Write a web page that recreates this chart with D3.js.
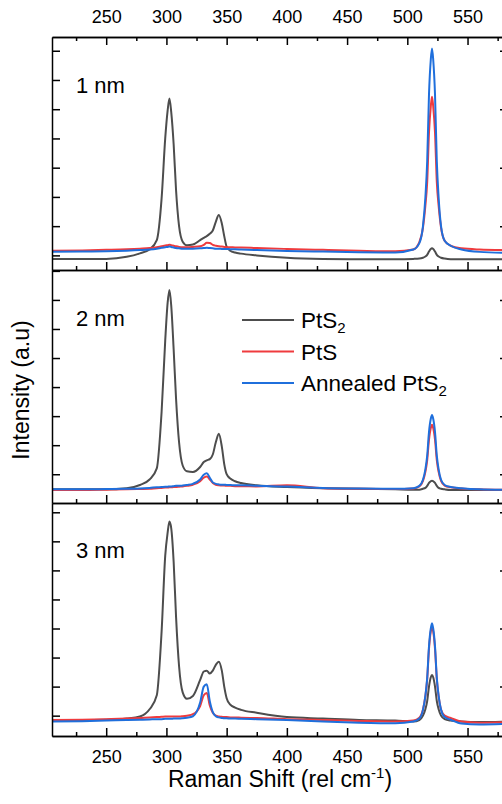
<!DOCTYPE html>
<html>
<head>
<meta charset="utf-8">
<script src="https://cdn.jsdelivr.net/npm/d3@7"></script>
<style>
  body { margin: 0; background: #fff; }
  text { font-family: Arial, "Liberation Sans", sans-serif; fill: #000; }
</style>
</head>
<body>
<div id="chart"></div>
<script>
// Raman shift grid (rel cm-1)
const shift = [205, 230, 250, 267, 278, 286, 292, 296, 299, 301,
  302.5, 304, 306, 308, 310.5, 313.5, 317, 322, 328, 331,
  333.5, 336, 338.5, 341, 343.5, 346, 348, 350, 353, 357,
  362, 375, 400, 430, 460, 490, 505, 510, 513, 515,
  516.5, 518, 519.5, 520.5, 521.5, 523, 524.5, 526, 528, 531,
  536, 545, 560, 583];

// 1 nm
const pts2_1nm = [-0.12, -0.12, -0.12, -0.05, 0.07, 0.20, 0.52, 1.95, 4.0, 4.95,
  5.37, 4.9, 3.8, 2.23, 1.0, 0.47, 0.35, 0.37, 0.52, 0.6,
  0.66, 0.74, 0.85, 1.15, 1.38, 1.09, 0.66, 0.30, 0.16, 0.10,
  0.06, 0.0, -0.08, -0.12, -0.13, -0.13, -0.12, -0.11, -0.08, -0.04,
  0.02, 0.13, 0.22, 0.24, 0.22, 0.13, 0.02, -0.04, -0.08, -0.11,
  -0.13, -0.13, -0.13, -0.13];
const pts_1nm = [0.16, 0.17, 0.19, 0.21, 0.23, 0.25, 0.28, 0.31, 0.34, 0.35,
  0.36, 0.35, 0.33, 0.31, 0.29, 0.28, 0.28, 0.29, 0.31, 0.36,
  0.43, 0.42, 0.36, 0.33, 0.31, 0.30, 0.29, 0.28, 0.28, 0.27,
  0.27, 0.25, 0.22, 0.19, 0.16, 0.14, 0.20, 0.45, 0.95, 1.7,
  2.5, 4.2, 5.1, 5.43, 5.1, 4.2, 2.5, 1.7, 0.95, 0.5,
  0.33, 0.24, 0.2, 0.18];
const annealed_1nm = [0.12, 0.13, 0.14, 0.16, 0.18, 0.20, 0.23, 0.26, 0.28, 0.29,
  0.30, 0.29, 0.27, 0.25, 0.24, 0.23, 0.23, 0.23, 0.24, 0.25,
  0.26, 0.25, 0.24, 0.23, 0.23, 0.22, 0.22, 0.22, 0.21, 0.21,
  0.20, 0.18, 0.15, 0.13, 0.11, 0.10, 0.20, 0.42, 1.0, 1.98,
  3.2, 5.5, 6.7, 7.08, 6.7, 5.5, 3.2, 1.98, 1.0, 0.5,
  0.33, 0.20, 0.12, 0.09];

// 2 nm
const pts2_2nm = [-0.52, -0.52, -0.52, -0.48, -0.37, -0.18, 0.2, 2.15, 4.6, 5.9,
  6.34, 5.8, 4.3, 2.6, 1.1, 0.3, 0.1, 0.08, 0.25, 0.42,
  0.48, 0.52, 0.68, 1.1, 1.39, 0.95, 0.35, 0.0, -0.15, -0.24,
  -0.3, -0.38, -0.44, -0.48, -0.5, -0.52, -0.53, -0.53, -0.5, -0.47,
  -0.4, -0.3, -0.24, -0.22, -0.24, -0.3, -0.4, -0.47, -0.5, -0.52,
  -0.54, -0.54, -0.54, -0.54];
const pts_2nm = [-0.54, -0.54, -0.53, -0.52, -0.51, -0.50, -0.48, -0.47, -0.46, -0.46,
  -0.45, -0.45, -0.44, -0.44, -0.43, -0.42, -0.40, -0.36, -0.24, -0.12,
  -0.08, -0.18, -0.30, -0.36, -0.38, -0.39, -0.39, -0.40, -0.40, -0.41,
  -0.41, -0.42, -0.38, -0.48, -0.50, -0.51, -0.49, -0.42, -0.23, 0.08,
  0.48, 1.19, 1.59, 1.70, 1.59, 1.19, 0.48, 0.08, -0.23, -0.39,
  -0.45, -0.49, -0.52, -0.54];
const annealed_2nm = [-0.52, -0.52, -0.51, -0.50, -0.49, -0.47, -0.45, -0.44, -0.43, -0.43,
  -0.42, -0.42, -0.41, -0.40, -0.40, -0.39, -0.37, -0.33, -0.18, -0.02,
  0.03, -0.12, -0.28, -0.33, -0.35, -0.36, -0.36, -0.37, -0.37, -0.38,
  -0.38, -0.40, -0.42, -0.47, -0.49, -0.50, -0.48, -0.40, -0.19, 0.17,
  0.63, 1.45, 1.91, 2.04, 1.91, 1.45, 0.63, 0.17, -0.19, -0.37,
  -0.44, -0.48, -0.52, -0.54];

// 3 nm
const pts2_3nm = [-0.15, -0.15, -0.14, -0.10, -0.03, 0.22, 0.7, 2.9, 5.5, 6.3,
  6.68, 6.45, 5.3, 3.4, 1.7, 0.8, 0.58, 0.68, 1.23, 1.52,
  1.55, 1.45, 1.55, 1.75, 1.86, 1.55, 1.0, 0.6, 0.38, 0.28,
  0.2, 0.1, -0.05, -0.1, -0.15, -0.17, -0.2, -0.15, 0.0, 0.22,
  0.5, 1.0, 1.32, 1.40, 1.32, 1.0, 0.5, 0.22, 0.0, -0.12,
  -0.17, -0.2, -0.22, -0.2];
const pts_3nm = [-0.15, -0.14, -0.12, -0.10, -0.08, -0.06, -0.05, -0.04, -0.03, -0.03,
  -0.03, -0.03, -0.03, -0.03, -0.03, -0.02, 0.0, 0.05, 0.33, 0.7,
  0.78, 0.35, 0.1, 0.0, -0.03, -0.04, -0.05, -0.05, -0.06, -0.06,
  -0.07, -0.08, -0.12, -0.15, -0.18, -0.2, -0.17, -0.07, 0.21, 0.67,
  1.25, 2.3, 2.9, 3.06, 2.9, 2.3, 1.25, 0.67, 0.21, 0.0,
  -0.08, -0.2, -0.24, -0.22];
const annealed_3nm = [-0.2, -0.19, -0.17, -0.15, -0.14, -0.13, -0.12, -0.12, -0.11, -0.11,
  -0.11, -0.11, -0.10, -0.10, -0.10, -0.09, -0.07, -0.02, 0.45, 1.0,
  1.08, 0.5, 0.12, -0.02, -0.06, -0.08, -0.09, -0.09, -0.10, -0.10,
  -0.11, -0.12, -0.15, -0.20, -0.24, -0.26, -0.2, -0.1, 0.2, 0.68,
  1.29, 2.39, 3.0, 3.18, 3.0, 2.39, 1.29, 0.68, 0.2, -0.05,
  -0.14, -0.27, -0.3, -0.28];

const thickness = ["1 nm", "2 nm", "3 nm"];
const seriesNames = ["PtS2", "PtS", "Annealed PtS2"];
const colors = ["#4d4d4d", "#ef3b3e", "#1f6fdc"];
const xMajor = [250, 300, 350, 400, 450, 500, 550];
const xMinor = [225, 275, 325, 375, 425, 475, 525, 575];

const width = 502, height = 804;
const left = 52, right = 508;
const panelTops = [37, 270, 503], panelH = 233;
const yDomains = [[-0.5, 7.47], [-0.99, 7.03], [-0.70, 7.32]];
const rightTicks = [[1, 3, 5, 7], [0, 2, 4, 6], [1, 3, 5, 7]];
const data = [
  [pts2_1nm, pts_1nm, annealed_1nm],
  [pts2_2nm, pts_2nm, annealed_2nm],
  [pts2_3nm, pts_3nm, annealed_3nm]
];

const svg = d3.select("#chart").append("svg")
  .attr("width", width).attr("height", height);

const x = d3.scaleLinear().domain([205, 583.6]).range([left, right]);

const styleAxis = g => {
  g.selectAll(".domain").attr("stroke", "#000").attr("stroke-width", 1.5);
  g.selectAll(".tick line").attr("stroke", "#000").attr("stroke-width", 1.5);
  g.selectAll("text").attr("font-size", 18).attr("fill", "#000");
};

panelTops.forEach((top, i) => {
  const bottom = top + panelH;
  const y = d3.scaleLinear().domain(yDomains[i]).range([bottom, top]);
  const g = svg.append("g");

  g.append("clipPath").attr("id", "clip" + i)
    .append("rect").attr("x", left).attr("y", top).attr("width", right - left).attr("height", panelH);

  const line = d3.line()
    .x((d, k) => x(shift[k]))
    .y(d => y(d))
    .curve(d3.curveMonotoneX);

  g.append("g").attr("clip-path", `url(#clip${i})`)
    .selectAll("path")
    .data(data[i])
    .enter()
    .append("path")
    .attr("d", line)
    .attr("fill", "none")
    .attr("stroke", (d, k) => colors[k])
    .attr("stroke-width", 2)
    .attr("stroke-linejoin", "round");

  // left + right y axes (ticks inward, no labels)
  const yl = d3.range(Math.ceil(yDomains[i][0]), Math.floor(yDomains[i][1]) + 1);
  g.append("g").attr("transform", `translate(${left},0)`)
    .call(d3.axisLeft(y).tickValues(yl).tickSizeInner(-8).tickSizeOuter(0).tickFormat(""))
    .call(styleAxis);
  g.append("g").attr("transform", `translate(${right},0)`)
    .call(d3.axisRight(y).tickValues(rightTicks[i]).tickSizeInner(-8).tickSizeOuter(0).tickFormat(""))
    .call(styleAxis);

  // bottom x axis of each panel, ticks pointing up
  const xb = d3.axisBottom(x).tickValues(xMajor).tickSizeInner(-8).tickSizeOuter(0).tickPadding(14);
  if (i < 2) xb.tickFormat("");
  g.append("g").attr("transform", `translate(0,${bottom})`).call(xb).call(styleAxis);
  g.append("g").attr("transform", `translate(0,${bottom})`)
    .call(d3.axisBottom(x).tickValues(xMinor).tickSizeInner(-4).tickSizeOuter(0).tickFormat(""))
    .call(styleAxis);

  if (i === 0) {
    g.append("g").attr("transform", `translate(0,${top})`)
      .call(d3.axisTop(x).tickValues(xMajor).tickSizeInner(-8).tickSizeOuter(0).tickPadding(14))
      .call(styleAxis);
    g.append("g").attr("transform", `translate(0,${top})`)
      .call(d3.axisTop(x).tickValues(xMinor).tickSizeInner(-4).tickSizeOuter(0).tickFormat(""))
      .call(styleAxis);
  }

  g.append("text")
    .attr("x", 76).attr("y", top + [56, 56, 55][i])
    .attr("font-size", 22)
    .text(thickness[i]);
});

// legend in the middle panel
const legend = svg.append("g").attr("transform", "translate(242,320)");
seriesNames.forEach((name, k) => {
  const row = legend.append("g").attr("transform", `translate(0,${k * 31.5})`);
  row.append("line").attr("x1", 0).attr("x2", 52).attr("y1", 0).attr("y2", 0)
    .attr("stroke", colors[k]).attr("stroke-width", 2);
  const t = row.append("text").attr("x", 59).attr("y", 8).attr("font-size", 22.5);
  if (name.endsWith("S2")) {
    t.append("tspan").text(name.slice(0, -1));
    t.append("tspan").attr("font-size", 15).attr("dy", 5).text("2");
  } else {
    t.text(name);
  }
});

// axis titles
const xt = svg.append("text")
  .attr("x", 280).attr("y", 787)
  .attr("text-anchor", "middle")
  .attr("font-size", 23);
xt.append("tspan").text("Raman Shift (rel cm");
xt.append("tspan").attr("font-size", 15).attr("dy", -9).text("-1");
xt.append("tspan").attr("dy", 9).text(")");

svg.append("text")
  .attr("transform", "translate(29,390) rotate(-90)")
  .attr("text-anchor", "middle")
  .attr("font-size", 23)
  .text("Intensity (a.u)");
</script>
</body>
</html>
